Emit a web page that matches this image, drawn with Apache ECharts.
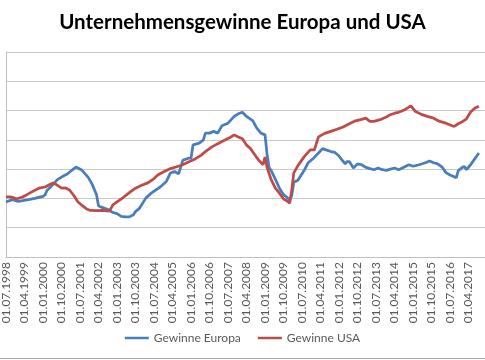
<!DOCTYPE html>
<html><head><meta charset="utf-8">
<script src="https://cdn.jsdelivr.net/npm/echarts@6/dist/echarts.min.js"></script>
<style>html,body{margin:0;padding:0;background:#fff;overflow:hidden}#c{width:485px;height:360px}</style>
</head><body><div id="c"></div>
<script>
const title = 'Unternehmensgewinne Europa und USA';
const seriesNames = ['Gewinne Europa', 'Gewinne USA'];
const startYear = 1998, startMonth = 7;

const euDates = ['1998-07','1998-10','1999-01','1999-06','1999-09','2000-01','2000-02','2000-03','2000-05','2000-08','2000-10','2001-01','2001-03','2001-05','2001-06','2001-08','2001-11','2002-01','2002-03','2002-04','2002-05','2002-08','2002-11','2003-01','2003-03','2003-05','2003-07','2003-09','2003-10','2003-12','2004-03','2004-06','2004-10','2005-01','2005-03','2005-05','2005-07','2005-09','2005-12','2006-01','2006-02','2006-05','2006-07','2006-08','2006-10','2006-12','2007-02','2007-04','2007-07','2007-10','2007-12','2008-02','2008-04','2008-07','2008-09','2008-11','2009-01','2009-02','2009-03','2009-04','2009-06','2009-08','2009-10','2009-12','2010-01','2010-02','2010-03','2010-05','2010-08','2010-10','2011-01','2011-03','2011-05','2011-07','2011-09','2011-11','2012-01','2012-02','2012-04','2012-05','2012-06','2012-08','2012-10','2012-12','2013-02','2013-04','2013-06','2013-08','2013-10','2013-12','2014-02','2014-04','2014-06','2014-09','2014-11','2015-01','2015-04','2015-07','2015-09','2015-11','2016-01','2016-03','2016-05','2016-07','2016-09','2016-10','2016-11','2017-01','2017-02','2017-03','2017-05','2017-07','2017-08','2017-09'];
const euValues = [1.88,1.96,1.90,1.96,2.00,2.07,2.12,2.28,2.41,2.64,2.73,2.84,2.96,3.07,3.04,2.96,2.72,2.47,2.13,1.75,1.71,1.64,1.52,1.48,1.39,1.37,1.37,1.44,1.55,1.67,2.01,2.20,2.39,2.58,2.87,2.92,2.84,3.30,3.38,3.38,3.83,3.89,4.00,4.23,4.23,4.29,4.23,4.48,4.57,4.80,4.89,4.94,4.80,4.66,4.40,4.23,4.17,3.50,3.05,2.95,2.66,2.35,2.13,2.02,1.93,2.10,2.55,2.62,2.95,3.22,3.40,3.55,3.70,3.65,3.60,3.57,3.45,3.35,3.18,3.26,3.26,3.04,3.18,3.15,3.06,3.02,2.98,3.04,2.98,2.96,3.00,3.04,2.98,3.08,3.15,3.10,3.15,3.22,3.28,3.22,3.18,3.08,2.88,2.80,2.74,2.70,2.95,3.06,3.09,2.98,3.15,3.35,3.45,3.55];

const usDates = ['1998-07','1998-09','1998-11','1998-12','1999-03','1999-05','1999-08','1999-11','2000-02','2000-05','2000-06','2000-08','2000-10','2000-12','2001-02','2001-04','2001-06','2001-08','2001-10','2001-12','2002-03','2002-06','2002-09','2002-10','2002-11','2003-01','2003-04','2003-07','2003-10','2004-01','2004-04','2004-07','2004-09','2004-12','2005-03','2005-06','2005-09','2005-12','2006-03','2006-06','2006-08','2006-11','2007-02','2007-05','2007-08','2007-10','2007-12','2008-02','2008-04','2008-06','2008-08','2008-10','2008-12','2009-01','2009-02','2009-04','2009-06','2009-08','2009-10','2009-12','2010-01','2010-02','2010-03','2010-05','2010-08','2010-11','2011-01','2011-03','2011-06','2011-09','2011-12','2012-03','2012-06','2012-09','2012-12','2013-02','2013-04','2013-06','2013-09','2013-12','2014-02','2014-04','2014-06','2014-09','2014-11','2014-12','2015-02','2015-05','2015-08','2015-11','2016-02','2016-05','2016-08','2016-09','2016-11','2017-01','2017-03','2017-05','2017-07','2017-09'];
const usValues = [2.05,2.05,2.02,1.98,2.05,2.12,2.24,2.35,2.39,2.50,2.53,2.45,2.35,2.36,2.28,2.10,1.88,1.76,1.65,1.59,1.58,1.59,1.57,1.65,1.78,1.88,2.03,2.20,2.35,2.45,2.53,2.68,2.81,2.92,3.02,3.08,3.15,3.25,3.35,3.48,3.60,3.75,3.87,3.98,4.08,4.17,4.10,4.04,3.82,3.70,3.49,3.30,3.15,3.41,3.05,2.64,2.35,2.18,1.98,1.90,1.84,2.30,2.87,3.12,3.42,3.66,3.66,4.10,4.22,4.29,4.36,4.44,4.55,4.65,4.70,4.74,4.63,4.63,4.69,4.78,4.86,4.91,4.94,5.03,5.12,5.16,4.98,4.87,4.80,4.74,4.63,4.57,4.48,4.46,4.55,4.62,4.72,4.95,5.08,5.15];

function idx(d){const p=d.split('-');return (parseInt(p[0])-startYear)*12+(parseInt(p[1])-startMonth);}
function lab(i){const t=i+startMonth-1;const y=startYear+Math.floor(t/12);const m=t%12+1;return '01.'+(m<10?'0':'')+m+'.'+y;}
const eu = euDates.map((d,i)=>[idx(d),euValues[i]]);
const us = usDates.map((d,i)=>[idx(d),usValues[i]]);

const chart = echarts.init(document.getElementById('c'));
const font = 'Lato, "Open Sans", sans-serif';
chart.setOption({
  animation:false,
  backgroundColor:'#fff',
  title:{text:title,left:'center',top:7,textStyle:{fontFamily:font,fontSize:20.5,fontWeight:'bold',color:'#000'}},
  legend:{bottom:11,left:'center',icon:'rect',itemWidth:24,itemHeight:2.5,itemGap:17,
    textStyle:{fontFamily:font,fontSize:12,color:'#595959'},data:seriesNames},
  grid:{left:3,right:-7,top:52,bottom:103,containLabel:false},
  xAxis:{type:'value',min:0,max:233,interval:9,
    axisLine:{show:true,lineStyle:{color:'#bfbfbf',width:1}},
    axisTick:{show:false},splitLine:{show:false},
    axisLabel:{rotate:90,margin:5,fontFamily:font,fontSize:12,color:'#595959',showMaxLabel:false,
      formatter:v=>(v%9===0?lab(v):'')}},
  yAxis:{type:'value',min:0,max:7,interval:1,
    axisLine:{show:true,lineStyle:{color:'#bfbfbf',width:1}},
    axisTick:{show:false},axisLabel:{show:false},
    splitLine:{lineStyle:{color:'#c8c8c8',width:1}}},
  series:[
    {name:seriesNames[0],type:'line',data:eu,showSymbol:false,symbol:'none',lineStyle:{color:'#4a7ebb',width:2.75},itemStyle:{color:'#4a7ebb'}},
    {name:seriesNames[1],type:'line',data:us,showSymbol:false,symbol:'none',lineStyle:{color:'#be4b48',width:2.75},itemStyle:{color:'#be4b48'}}
  ],
  graphic:[{type:'line',shape:{x1:0,y1:358.5,x2:485,y2:358.5},style:{stroke:'#a6a6a6',lineWidth:1}}]
});
</script></body></html>
